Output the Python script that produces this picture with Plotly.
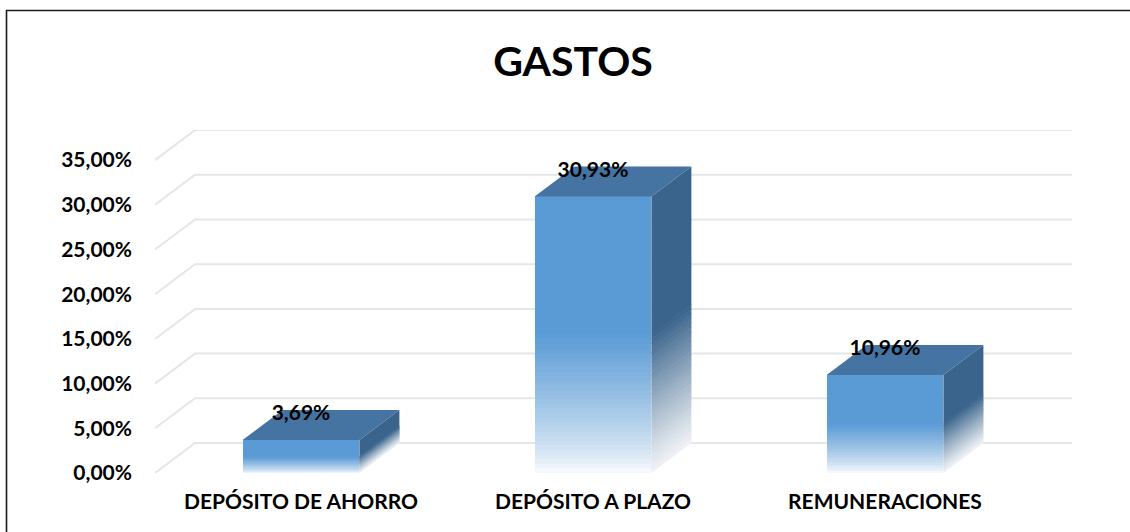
import plotly.graph_objects as go

# ---------------- data ----------------
categories = ["DEPÓSITO DE AHORRO", "DEPÓSITO A PLAZO", "REMUNERACIONES"]
values = [3.69, 30.93, 10.96]          # percent
value_labels = ["3,69%", "30,93%", "10,96%"]
y_ticks = [0, 5, 10, 15, 20, 25, 30, 35]
y_tick_labels = ["0,00%", "5,00%", "10,00%", "15,00%", "20,00%", "25,00%", "30,00%", "35,00%"]
title_text = "GASTOS"

# ---------------- layout geometry (pixels) ----------------
W, H = 1130, 532
PL, PR, PT, PB = 155, 1072, 130, 473      # plot area pixel box
PX_PER_CAT = 292.0
DX_PX, DY_PX = 40.0, 30.0                 # 3-D depth offset
BAR_W = 0.40

x_lo = -0.5
x_hi = x_lo + (PR - PL) / PX_PER_CAT
dx = DX_PX / PX_PER_CAT
px_per_pct = 8.94
y_hi = (PB - PT) / px_per_pct
dy = DY_PX / px_per_pct

FONT = "Lato, 'Liberation Sans', sans-serif"
FRONT = (91, 155, 213)
SIDE = (58, 100, 140)
TOP = "#4574a2"
N = 30


def mix(c, t):
    """t=0 -> white, t=1 -> c"""
    return "rgb(%d,%d,%d)" % tuple(round(255 + (ci - 255) * t) for ci in c)


xs = list(range(len(categories)))
fig = go.Figure()

# front faces: solid upper half
fig.add_trace(go.Bar(x=xs, y=[v * 0.5 for v in values], base=[v * 0.5 for v in values],
                     width=BAR_W, marker=dict(color=mix(FRONT, 1), line=dict(width=0)),
                     hoverinfo="skip", showlegend=False))
# front faces: gradient lower half (slight overlap between slices to avoid seams)
ov = 0.6 / px_per_pct
for i in range(N):
    t = (i + 0.5) / N
    fig.add_trace(go.Bar(x=xs, y=[v * 0.5 / N + ov for v in values],
                         base=[v * 0.5 * i / N for v in values],
                         width=BAR_W, marker=dict(color=mix(FRONT, t ** 0.8 * 0.97 + 0.03), line=dict(width=0)),
                         hoverinfo="skip", showlegend=False))


# side faces
def side_poly(levels_lo, levels_hi, color):
    px, py = [], []
    for xi, lo, hi in zip(xs, levels_lo, levels_hi):
        xr = xi + BAR_W / 2
        px += [xr, xr, xr + dx, xr + dx, xr, None]
        py += [lo, hi, hi + dy, lo + dy, lo, None]
    fig.add_trace(go.Scatter(x=px, y=py, mode="lines", fill="toself", fillcolor=color,
                             line=dict(width=0, color=color), hoverinfo="skip", showlegend=False))


side_poly([v * 0.5 for v in values], values, mix(SIDE, 1))
for i in range(N):
    t = (i + 0.5) / N
    side_poly([v * 0.5 * i / N for v in values], [v * 0.5 * (i + 1) / N + ov for v in values],
              mix(SIDE, 0.08 + 0.92 * t ** 1.1))

# top faces
tx, ty = [], []
for xi, v in zip(xs, values):
    xl, xr = xi - BAR_W / 2, xi + BAR_W / 2
    tx += [xl, xr, xr + dx, xl + dx, xl, None]
    ty += [v, v, v + dy, v + dy, v, None]
fig.add_trace(go.Scatter(x=tx, y=ty, mode="lines", fill="toself", fillcolor=TOP,
                         line=dict(width=0, color=TOP), hoverinfo="skip", showlegend=False))

# data labels
fig.add_trace(go.Scatter(x=xs, y=[v + dy - 5 / px_per_pct for v in values], mode="text",
                         text=["<b>%s</b>" % s for s in value_labels], textposition="middle center",
                         textfont=dict(family=FONT, size=21, color="#000000"),
                         hoverinfo="skip", showlegend=False))

# gridlines (back wall + left side wall diagonal)
shapes = []
for t in y_ticks:
    shapes.append(dict(type="path", xref="x", yref="y", layer="below",
                       path="M %f,%f L %f,%f L %f,%f" % (x_lo, t, x_lo + dx, t + dy, x_hi, t + dy),
                       line=dict(color="#e6e6e6", width=2)))

# outer chart border
pw, ph = PR - PL, PB - PT
shapes.append(dict(type="rect", xref="paper", yref="paper",
                   x0=(6.5 - PL) / pw, x1=(W + 10 - PL) / pw,
                   y0=(PB - (H + 10)) / ph, y1=(PB - 10.5) / ph,
                   line=dict(color="#1a1a1a", width=1.6), fillcolor="rgba(0,0,0,0)", layer="above"))

fig.update_layout(
    width=W, height=H,
    margin=dict(l=PL, r=W - PR, t=PT, b=H - PB, pad=0, autoexpand=False),
    paper_bgcolor="white", plot_bgcolor="white",
    barmode="overlay", bargap=0,
    showlegend=False,
    shapes=shapes,
    hovermode=False,
    title=dict(text="<b>%s</b>" % title_text, x=573 / W, xanchor="center", y=1 - 62 / H, yanchor="middle",
               font=dict(family=FONT, size=41, color="#000000")),
    font=dict(family=FONT, color="#000000"),
)
fig.update_xaxes(range=[x_lo, x_hi], tickmode="array", tickvals=xs,
                 ticktext=["<b>%s</b>" % c for c in categories],
                 tickfont=dict(family=FONT, size=21, color="#000000"),
                 showgrid=False, zeroline=False, showline=False, ticks="", ticklabelstandoff=14,
                 fixedrange=True)
fig.update_yaxes(range=[0, y_hi], tickmode="array", tickvals=y_ticks,
                 ticktext=["<b>%s</b>" % s for s in y_tick_labels],
                 tickfont=dict(family=FONT, size=21, color="#000000"),
                 showgrid=False, zeroline=False, showline=False, ticks="", ticklabelstandoff=22,
                 fixedrange=True)

fig.write_html("out.html", config={"displayModeBar": False},
               post_script="document.body.style.margin='0';")
